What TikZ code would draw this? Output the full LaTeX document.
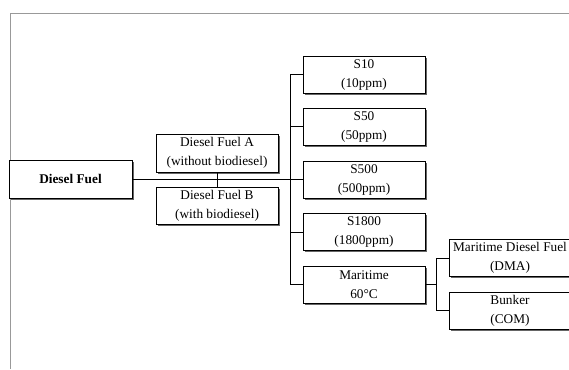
\documentclass[tikz,border=0pt]{standalone}
\usepackage{fontspec}
\setmainfont{Liberation Serif}
\usetikzlibrary{shadows}
\begin{document}
\begin{tikzpicture}[x=1pt,y=-1pt,
  box/.style={draw=black, line width=0.9pt, fill=white, rectangle, inner sep=0pt,
    minimum width=122pt, minimum height=37pt, align=center,
    font=\fontsize{13.3}{19}\selectfont,
    drop shadow={shadow xshift=1.6pt, shadow yshift=-1.8pt, fill=black, opacity=0.6}},
  conn/.style={draw=black, line width=0.8pt},
  frame/.style={draw=gray!80, line width=0.9pt}]
\useasboundingbox (0,0) rectangle (569,369);
\clip (0,0) rectangle (569,369);
\draw[frame] (569,13) -| (10,369);
\node[box, minimum width=123pt, minimum height=38pt, line width=1pt, font=\fontsize{13.3}{19}\selectfont\bfseries] (df) at (70.5,179) {Diesel Fuel};
\node[box, minimum height=38pt] (dfa) at (217,153) {Diesel Fuel A\\(without biodiesel)};
\node[box] (dfb) at (217,205.5) {Diesel Fuel B\\(with biodiesel)};
\node[box] (s10) at (364,74.5) {S10\\(10ppm)};
\node[box] (s50) at (364,126.5) {S50\\(50ppm)};
\node[box] (s500) at (364,179.5) {S500\\(500ppm)};
\node[box] (s1800) at (364,232) {S1800\\(1800ppm)};
\node[box] (mar) at (364,284.5) {Maritime\\60°C};
\node[box] (mdf) at (510,258) {Maritime Diesel Fuel\\(DMA)};
\node[box] (bun) at (510,310.5) {Bunker\\(COM)};
% connectors
\draw[conn] (df.east) -- (df.east -| s500.west);
\draw[conn] (dfa.south) -- (dfb.north);
\draw[conn] (s10.west) -- ++(-12,0) coordinate (sp) |- (mar.west);
\draw[conn] (s50.west) -- (s50.west -| sp);
\draw[conn] (s1800.west) -- (s1800.west -| sp);
\draw[conn] (mdf.west) -- ++(-12,0) coordinate (sp2) |- (bun.west);
\draw[conn] (mar.east) -- (mar.east -| sp2);
\end{tikzpicture}
\end{document}
